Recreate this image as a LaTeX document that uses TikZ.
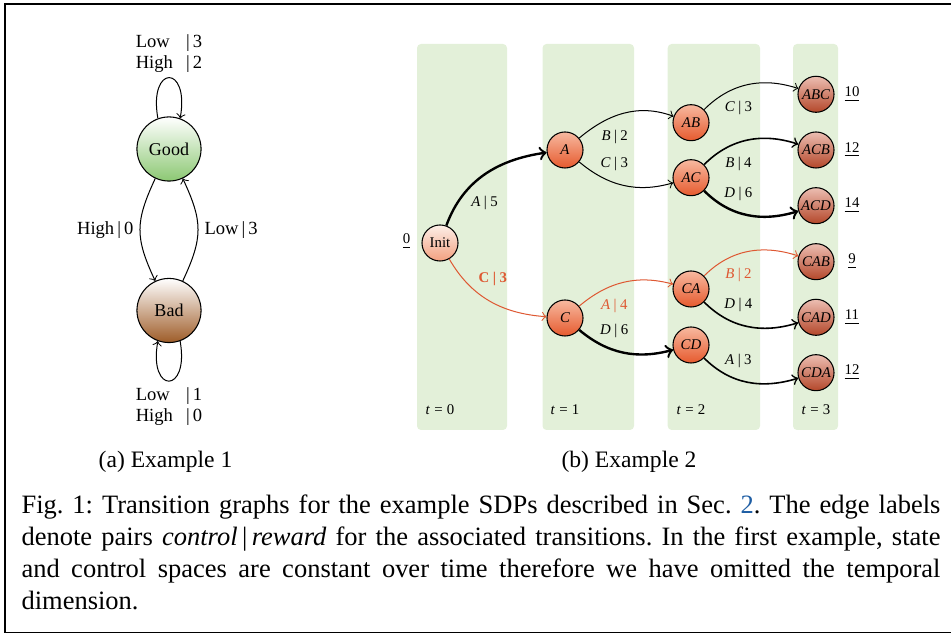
\documentclass[tikz,border=0pt]{standalone}
\usepackage{fontspec}
\setmainfont{Liberation Serif}
\usetikzlibrary{positioning}

\definecolor{stagegreen}{RGB}{227,240,217}
\definecolor{goodgreen}{RGB}{140,200,115}
\definecolor{badbrown}{RGB}{158,92,40}
\definecolor{optred}{RGB}{222,88,50}
\definecolor{linkblue}{RGB}{31,94,164}

\newcommand{\ctrl}[2]{\textit{#1}\kern1.3pt|\kern1.3pt#2}

\begin{document}
\frenchspacing
\begin{tikzpicture}[x=0.3774pt, y=0.3774pt, >=to,
    big node/.style={circle, draw, line width=0.4pt, minimum size=24.2pt, inner sep=0pt,
                     font=\fontsize{6.8}{8}\selectfont},
    main node/.style={circle, draw, line width=0.4pt, minimum size=13.6pt, inner sep=0pt,
                      font=\fontsize{5.6}{6.5}\selectfont\itshape,
                      top color={rgb,255:red,247;green,185;blue,160},
                      bottom color={rgb,255:red,230;green,90;blue,46}},
    leaf node/.style={main node,
                      top color={rgb,255:red,236;green,190;blue,178},
                      bottom color={rgb,255:red,180;green,71;blue,42}},
    trans/.style={->, line width=0.38pt},
    trans mid/.style={->, line width=0.6pt},
    trans thick/.style={->, line width=0.9pt},
    trans opt/.style={->, line width=0.38pt, color=optred},
    lbl/.style={font=\fontsize{5.6}{6.5}\selectfont, inner sep=1.5pt},
    loop lbl/.style={font=\fontsize{7}{7.9}\selectfont, inner sep=1pt}]

  \useasboundingbox (0,0) rectangle (951,-634);
  \draw[line width=0.75pt] (951,-4.3) -- (5,-4.3) -- (5,-632.5) -- (951,-632.5);

  % (a) example 1
  \node[big node, top color=white, bottom color=goodgreen] (good) at (169,-149) {Good};
  \node[big node, top color=white, bottom color=badbrown] (bad) at (169,-310.5) {Bad};

  \draw[trans] (good.110) .. controls +(100:55) and +(80:55) .. (good.70)
    node[midway, above, loop lbl] (lbl-good)
      {\begin{tabular}{@{}l@{\hspace{5pt}}l@{}}Low & |\,3\\ High & |\,2\end{tabular}};
  \draw[trans] (bad.-70) .. controls +(-80:54) and +(-100:54) .. (bad.-110)
    node[midway, below, loop lbl, inner sep=1.7pt] (lbl-bad)
      {\begin{tabular}{@{}l@{\hspace{5pt}}l@{}}Low & |\,1\\ High & |\,0\end{tabular}};

  \path[every node/.style={loop lbl, inner sep=2.3pt}]
  (good) edge[trans, out=245, in=115, looseness=1.2] node[left] {High\,|\,0} (bad)
  (bad) edge[trans, out=65, in=295, looseness=1.2] node[right] {Low\,|\,3} (good);

  \node[font=\fontsize{8.9}{10.7}\selectfont, anchor=base] (sub-a) at (165.5,-468) {(a) Example 1};

  % (b) example 2
  \foreach \xa/\xb in {417/507, 542.5/634, 667.7/760, 793/838}
    \fill[stagegreen, rounded corners=1.5pt] (\xa,-44) rectangle (\xb,-430);
  \foreach \x/\tnum in {440/0, 565/1, 691/2, 816/3}
    \node[lbl] (t\tnum) at (\x,-410) {\textit{t}\kern1.6pt=\kern1.6pt\tnum};

  \node[main node, font=\fontsize{5.6}{6.5}\selectfont,
        top color={rgb,255:red,253;green,239;blue,232},
        bottom color={rgb,255:red,243;green,160;blue,127}] (init) at (440,-243) {Init};
  \node[main node] (a) at (565,-150) {A};
  \node[main node] (c) at (565,-318) {C};
  \node[main node] (ab) at (691,-122.7) {AB};
  \node[main node] (ac) at (691,-177.7) {AC};
  \node[main node] (ca) at (691,-289) {CA};
  \node[main node] (cd) at (691,-345) {CD};
  \node[leaf node] (abc) at (816,-94.3) {ABC};
  \node[leaf node] (acb) at (816,-150) {ACB};
  \node[leaf node] (acd) at (816,-205.7) {ACD};
  \node[leaf node] (cab) at (816,-261.7) {CAB};
  \node[leaf node] (cad) at (816,-317.3) {CAD};
  \node[leaf node] (cda) at (816,-372.7) {CDA};

  \path (init) ++(-33.5,2) node[lbl] (v-init) {\underline{0}};
  \foreach \n/\val in {abc/10, acb/12, acd/14, cab/9, cad/11, cda/12}
    \path (\n) ++(36,0) node[lbl] (v-\n) {\underline{\val}};

  \path[every node/.style={lbl}]
  (init) edge[trans thick, out=70, in=188] node[pos=0.3, below right] {\ctrl{A}{5}} (a)
  (init) edge[trans opt, out=-60, in=176] node[pos=0.33, above right] {\textbf{C\kern1.3pt|\kern1.3pt3}} (c)
  (a) edge[trans, out=40, in=160] node[pos=0.4, below=3.6pt] {\ctrl{B}{2}} (ab)
  (a) edge[trans, out=-40, in=196] node[pos=0.4, above=2.7pt] {\ctrl{C}{3}} (ac)
  (c) edge[trans opt, out=40, in=165] node[pos=0.4, below=3.6pt] {\ctrl{A}{4}} (ca)
  (c) edge[trans thick, out=-40, in=195] node[pos=0.4, above=2.7pt] {\ctrl{D}{6}} (cd)
  (ab) edge[trans, out=45, in=162] node[pos=0.4, below=3.6pt] {\ctrl{C}{3}} (abc)
  (ac) edge[trans mid, out=45, in=162] node[pos=0.4, below=3.6pt] {\ctrl{B}{4}} (acb)
  (ac) edge[trans thick, out=-45, in=197] node[pos=0.4, above=2.7pt] {\ctrl{D}{6}} (acd)
  (ca) edge[trans opt, out=45, in=162] node[pos=0.4, below=3.6pt] {\ctrl{B}{2}} (cab)
  (ca) edge[trans mid, out=-45, in=197] node[pos=0.4, above=2.7pt] {\ctrl{D}{4}} (cad)
  (cd) edge[trans mid, out=-45, in=197] node[pos=0.4, above=2.7pt] {\ctrl{A}{3}} (cda);

  \node[font=\fontsize{8.9}{10.7}\selectfont, anchor=base] (sub-b) at (629,-468) {(b) Example 2};

  % caption
  \node[anchor=base west, text width=346.8pt, align=justify, inner sep=0pt,
        font=\fontsize{10}{12}\selectfont] (caption) at (21,-514)
    {Fig. 1: Transition graphs for the example SDPs described in Sec.~\textcolor{linkblue}{2}. The edge labels\linebreak
     denote pairs \textit{control}\,|\,\textit{reward} for the associated transitions. In the first example, state\linebreak
     and control spaces are constant over time therefore we have omitted the temporal\linebreak
     dimension.};
\end{tikzpicture}
\end{document}
